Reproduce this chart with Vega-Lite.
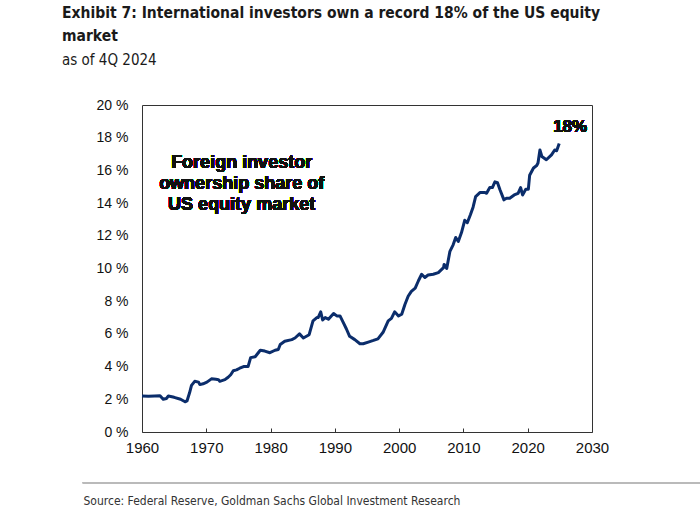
{
  "$schema": "https://vega.github.io/schema/vega-lite/v6.json",
  "autosize": {"type": "none"},
  "width": 450,
  "height": 327,
  "padding": {"left": 142, "top": 105, "right": 108, "bottom": 78},
  "background": "white",
  "title": {
    "text": ["Exhibit 7: International investors own a record 18% of the US equity", "market"],
    "subtitle": "as of 4Q 2024",
    "anchor": "start",
    "frame": "group",
    "dx": -80,
    "offset": 30,
    "font": "DejaVu Sans Condensed, Roboto, sans-serif",
    "fontSize": 15.5,
    "fontWeight": "bold",
    "color": "#1a1a1a",
    "lineHeight": 23,
    "subtitleFont": "DejaVu Sans Condensed, Roboto, sans-serif",
    "subtitleFontSize": 15,
    "subtitleColor": "#1a1a1a",
    "subtitlePadding": 9
  },
  "config": {
    "view": {"stroke": "#333", "strokeWidth": 1},
    "axis": {
      "grid": false,
      "domain": false,
      "labelOverlap": false,
      "labelFont": "Liberation Sans",
      "labelColor": "#111",
      "titleFont": "DejaVu Sans Condensed, Roboto, sans-serif"
    }
  },
  "data": {
    "values": [
      {"year": 1960.0, "share": 2.2},
      {"year": 1961.0, "share": 2.18},
      {"year": 1962.0, "share": 2.2},
      {"year": 1962.8, "share": 2.22},
      {"year": 1963.3, "share": 2.0},
      {"year": 1963.8, "share": 2.05},
      {"year": 1964.1, "share": 2.2},
      {"year": 1965.0, "share": 2.12},
      {"year": 1966.0, "share": 2.0},
      {"year": 1966.7, "share": 1.85},
      {"year": 1967.0, "share": 1.9},
      {"year": 1967.4, "share": 2.4},
      {"year": 1967.7, "share": 2.85},
      {"year": 1968.2, "share": 3.1},
      {"year": 1968.8, "share": 3.05},
      {"year": 1969.0, "share": 2.9},
      {"year": 1969.5, "share": 2.95},
      {"year": 1970.1, "share": 3.05},
      {"year": 1970.8, "share": 3.25},
      {"year": 1971.5, "share": 3.22},
      {"year": 1971.9, "share": 3.2},
      {"year": 1972.1, "share": 3.1},
      {"year": 1972.9, "share": 3.2},
      {"year": 1973.4, "share": 3.35},
      {"year": 1973.8, "share": 3.5},
      {"year": 1974.2, "share": 3.75},
      {"year": 1974.7, "share": 3.8},
      {"year": 1975.2, "share": 3.9},
      {"year": 1975.8, "share": 4.0},
      {"year": 1976.5, "share": 4.0},
      {"year": 1976.9, "share": 4.55},
      {"year": 1977.6, "share": 4.6},
      {"year": 1978.0, "share": 4.8},
      {"year": 1978.4, "share": 5.0},
      {"year": 1979.1, "share": 4.95},
      {"year": 1979.9, "share": 4.85},
      {"year": 1980.7, "share": 5.0},
      {"year": 1981.2, "share": 5.05},
      {"year": 1981.5, "share": 5.35},
      {"year": 1982.2, "share": 5.55},
      {"year": 1983.3, "share": 5.65},
      {"year": 1983.8, "share": 5.75},
      {"year": 1984.5, "share": 6.0},
      {"year": 1985.1, "share": 5.75},
      {"year": 1986.0, "share": 5.95},
      {"year": 1986.6, "share": 6.8},
      {"year": 1987.2, "share": 7.0},
      {"year": 1987.4, "share": 7.0},
      {"year": 1987.8, "share": 7.35},
      {"year": 1988.1, "share": 6.85},
      {"year": 1988.5, "share": 7.0},
      {"year": 1989.0, "share": 6.9},
      {"year": 1989.8, "share": 7.25},
      {"year": 1990.3, "share": 7.1},
      {"year": 1990.8, "share": 7.1},
      {"year": 1991.3, "share": 6.7},
      {"year": 1991.8, "share": 6.3},
      {"year": 1992.3, "share": 5.85},
      {"year": 1993.1, "share": 5.65},
      {"year": 1993.9, "share": 5.4},
      {"year": 1994.4, "share": 5.4},
      {"year": 1995.2, "share": 5.5},
      {"year": 1996.0, "share": 5.6},
      {"year": 1996.7, "share": 5.7},
      {"year": 1997.5, "share": 6.1},
      {"year": 1998.3, "share": 6.8},
      {"year": 1998.8, "share": 6.95},
      {"year": 1999.3, "share": 7.35},
      {"year": 1999.9, "share": 7.1},
      {"year": 2000.4, "share": 7.2},
      {"year": 2000.9, "share": 7.8},
      {"year": 2001.4, "share": 8.3},
      {"year": 2001.9, "share": 8.6},
      {"year": 2002.5, "share": 8.8},
      {"year": 2003.0, "share": 9.25},
      {"year": 2003.5, "share": 9.65},
      {"year": 2004.0, "share": 9.45},
      {"year": 2004.5, "share": 9.6},
      {"year": 2005.3, "share": 9.65},
      {"year": 2006.1, "share": 9.75},
      {"year": 2006.9, "share": 10.05},
      {"year": 2007.0, "share": 10.25},
      {"year": 2007.4, "share": 10.0},
      {"year": 2007.9, "share": 11.05},
      {"year": 2008.4, "share": 11.45},
      {"year": 2008.8, "share": 11.9},
      {"year": 2009.2, "share": 11.65},
      {"year": 2009.7, "share": 12.2},
      {"year": 2010.2, "share": 12.95},
      {"year": 2010.6, "share": 12.8},
      {"year": 2011.1, "share": 13.3},
      {"year": 2011.5, "share": 13.75},
      {"year": 2011.9, "share": 14.4},
      {"year": 2012.6, "share": 14.65},
      {"year": 2013.3, "share": 14.65},
      {"year": 2013.6, "share": 14.6},
      {"year": 2014.1, "share": 14.95},
      {"year": 2014.5, "share": 14.95},
      {"year": 2014.9, "share": 15.3},
      {"year": 2015.3, "share": 15.25},
      {"year": 2015.7, "share": 14.8},
      {"year": 2016.3, "share": 14.2},
      {"year": 2016.7, "share": 14.3},
      {"year": 2017.2, "share": 14.3},
      {"year": 2017.9, "share": 14.5},
      {"year": 2018.5, "share": 14.6},
      {"year": 2018.9, "share": 14.95},
      {"year": 2019.2, "share": 14.5},
      {"year": 2019.7, "share": 14.85},
      {"year": 2020.1, "share": 14.85},
      {"year": 2020.3, "share": 15.7},
      {"year": 2020.9, "share": 16.15},
      {"year": 2021.4, "share": 16.3},
      {"year": 2021.6, "share": 16.45},
      {"year": 2021.9, "share": 17.25},
      {"year": 2022.2, "share": 16.85},
      {"year": 2022.9, "share": 16.65},
      {"year": 2023.7, "share": 16.95},
      {"year": 2024.2, "share": 17.25},
      {"year": 2024.5, "share": 17.2},
      {"year": 2024.9, "share": 17.65}
    ]
  },
  "layer": [
    {
      "mark": {"type": "line", "color": "#0b2d6b", "strokeWidth": 3, "strokeJoin": "round"},
      "encoding": {
        "x": {
          "field": "year",
          "type": "quantitative",
          "scale": {"domain": [1960, 2030], "nice": false},
          "axis": {
            "values": [1960, 1970, 1980, 1990, 2000, 2010, 2020, 2030],
            "format": "d",
            "labelFontSize": 15,
            "labelOverlap": false,
            "offset": -4,
            "tickSize": 4,
            "tickColor": "#333",
            "labelPadding": 8,
            "labelFlush": false,
            "title": "Source: Federal Reserve, Goldman Sachs Global Investment Research",
            "titleAnchor": "start",
            "titleAlign": "left",
            "titleX": -59,
            "titleY": 72,
            "titleBaseline": "middle",
            "titleFontSize": 12,
            "titleFontWeight": "normal",
            "titleColor": "#333"
          }
        },
        "y": {
          "field": "share",
          "type": "quantitative",
          "scale": {"domain": [0, 20], "nice": false},
          "axis": {
            "tickCount": 10,
            "labelExpr": "datum.value + ' %'",
            "labelFontSize": 14,
            "labelOverlap": false,
            "labelSeparation": 0,
            "ticks": false,
            "labelPadding": 14,
            "title": null
          }
        }
      }
    },
    {
      "mark": {
        "type": "text",
        "text": ["Foreign investor", "ownership share of", "US equity market"],
        "font": "Liberation Sans",
        "fontSize": 18,
        "fontWeight": "bold",
        "lineHeight": 21,
        "align": "center",
        "baseline": "middle",
        "color": "#111"
      },
      "encoding": {
        "x": {"datum": 1975.5},
        "y": {"datum": 16.45}
      }
    },
    {
      "mark": {
        "type": "text",
        "text": "18%",
        "font": "Liberation Sans",
        "fontSize": 17,
        "fontWeight": "bold",
        "align": "center",
        "baseline": "middle",
        "color": "#111"
      },
      "encoding": {
        "x": {"datum": 2026.6},
        "y": {"datum": 18.65}
      }
    },
    {
      "mark": {"type": "rule", "color": "#bbbbbb", "strokeWidth": 1, "clip": false},
      "encoding": {
        "x": {"datum": 1950.8},
        "x2": {"datum": 2046.8},
        "y": {"datum": -3.1}
      }
    }
  ]
}
